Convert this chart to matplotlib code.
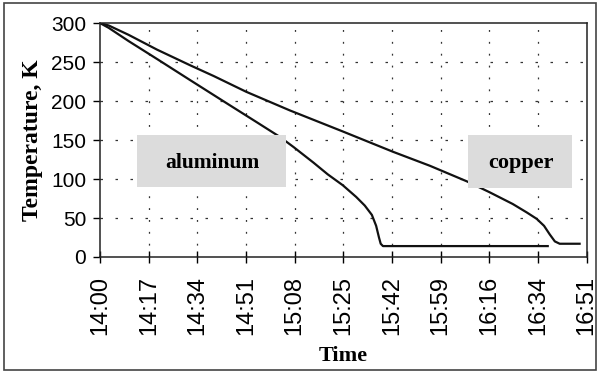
import numpy as np
import matplotlib.pyplot as plt
from matplotlib.patches import Rectangle

# minutes after 14:00 and temperature (K)
alMinutes = [0, 3, 10, 20, 31.6, 45, 55, 63.2, 68, 75, 80, 85.3, 90, 93, 95.5, 97, 98, 98.6, 99.4, 157.3]
alTemp = [300, 294, 277, 254, 227, 196, 173, 154, 141, 121, 106, 92, 77, 66, 54, 40, 25, 17, 14, 14]

cuMinutes = [0, 3, 10, 20, 31.6, 40, 51.3, 66.7, 85.3, 102.9, 115.9, 128.9, 136.9, 145, 150,
             153.4, 156, 158, 159.8, 161.5, 168.5]
cuTemp = [300, 297, 285, 266, 246, 232, 212, 188, 161, 135, 117, 97, 83, 68, 57, 49, 40, 29, 20, 17, 17]

tickLabels = ['14:00', '14:17', '14:34', '14:51', '15:08', '15:25',
              '15:42', '15:59', '16:16', '16:34', '16:51']
tickStep = 17.1
yTicks = [0, 50, 100, 150, 200, 250, 300]

fig = plt.figure(figsize=(6.03, 3.73), dpi=100)
ax = fig.add_axes([0.166, 0.311, 0.807, 0.627])

# grid first so the curves sit on top
for t in yTicks[1:-1]:
    ax.axhline(t, color='#333333', lw=0.9, ls=(0, (2, 10)), zorder=1)
for k in range(1, len(tickLabels) - 1):
    ax.axvline(k * tickStep, color='#333333', lw=0.9, ls=(0, (1.5, 8)), zorder=1)

ax.plot(alMinutes, alTemp, color='#111111', lw=1.6, zorder=2)
ax.plot(cuMinutes, cuTemp, color='#111111', lw=1.6, zorder=2)

# label boxes cover the curves
ax.add_patch(Rectangle((13, 90), 52.5, 66, facecolor='#dcdcdc', edgecolor='none', zorder=3))
ax.add_patch(Rectangle((129.2, 88), 36.8, 68, facecolor='#dcdcdc', edgecolor='none', zorder=3))
ax.text(39.5, 121, 'aluminum', family='Liberation Serif', fontweight='bold',
        fontsize=15.5, ha='center', va='center', zorder=4)
ax.text(148, 121, 'copper', family='Liberation Serif', fontweight='bold',
        fontsize=16, ha='center', va='center', zorder=4)

ax.set_xlim(0, tickStep * (len(tickLabels) - 1))
ax.set_ylim(0, 300)
ax.set_xticks([k * tickStep for k in range(len(tickLabels))])
ax.set_xticklabels(tickLabels, rotation=90, family='Liberation Sans', fontsize=17)
ax.set_yticks(yTicks)
ax.set_yticklabels([str(v) for v in yTicks], family='Liberation Sans', fontsize=15)
ax.tick_params(axis='x', direction='inout', length=9, width=1, pad=9)
ax.tick_params(axis='y', direction='out', length=5, width=1, pad=5)
for s in ax.spines.values():
    s.set_linewidth(1.1)
    s.set_color('#222222')

ax.set_ylabel('Temperature, K', family='Liberation Serif', fontweight='bold', fontsize=17, labelpad=6)
ax.set_xlabel('Time', family='Liberation Serif', fontweight='bold', fontsize=16, labelpad=8)

# frame round the whole chart
fig.add_artist(Rectangle((0.006, 0.008), 0.983, 0.984, transform=fig.transFigure,
                         fill=False, edgecolor='#444444', lw=1.2))

fig.savefig('out.png', dpi=100)
